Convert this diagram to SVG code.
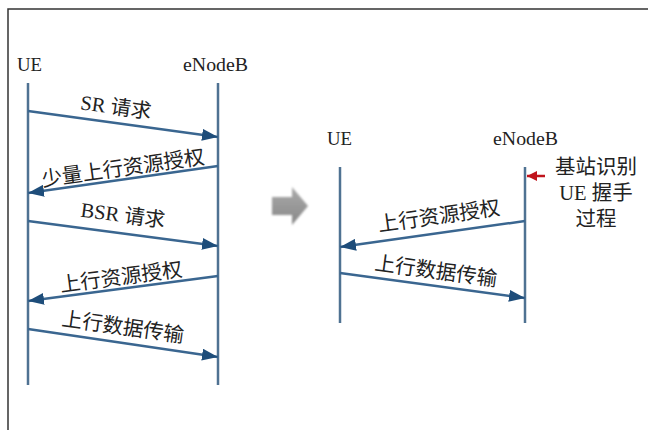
<svg xmlns="http://www.w3.org/2000/svg" width="648" height="430" viewBox="0 0 648 430">
<defs>
<style>
.frame{stroke:#333;stroke-width:1.5;fill:none}
.life{stroke:#4f7292;stroke-width:2.5;fill:none}
.msg{stroke:#3a6690;stroke-width:2.5;fill:none;marker-end:url(#ah)}
.lbl{font-family:"Liberation Serif","Noto Sans CJK SC",serif;font-size:20.5px;fill:#222;text-anchor:middle}
.hdr{font-family:"Liberation Serif",serif;font-size:18px;fill:#222}
.note{font-family:"Liberation Serif","Noto Sans CJK SC",serif;font-size:20.5px;fill:#222;text-anchor:middle}
</style>
<marker id="ah" viewBox="0 0 16 12" refX="16" refY="6" markerWidth="16" markerHeight="12" markerUnits="userSpaceOnUse" orient="auto">
<path d="M0,0 L16,6 L0,12 Z" fill="#1e4d7a"/>
</marker>
<marker id="ahr" viewBox="0 0 10 10" refX="10" refY="5" markerWidth="10" markerHeight="10" markerUnits="userSpaceOnUse" orient="auto">
<path d="M0,0 L10,5 L0,10 Z" fill="#c0141c"/>
</marker>
<filter id="blur" x="-20%" y="-20%" width="140%" height="140%"><feGaussianBlur stdDeviation="1.2"/></filter>
<linearGradient id="gg" x1="0" y1="0" x2="0" y2="1"><stop offset="0" stop-color="#aaa"/><stop offset="1" stop-color="#888"/></linearGradient>
</defs>
<rect width="648" height="430" fill="#fff"/>
<path class="frame" d="M8,430 V9 H648"/>

<g id="left-ue">
<text class="hdr" x="17" y="71" textLength="25" lengthAdjust="spacingAndGlyphs">UE</text>
<line class="life" x1="28" y1="83" x2="28" y2="385"/>
</g>
<g id="left-enodeb">
<text class="hdr" x="183" y="71" textLength="65" lengthAdjust="spacingAndGlyphs">eNodeB</text>
<line class="life" x1="218" y1="83" x2="218" y2="385"/>
</g>

<g id="right-ue">
<text class="hdr" x="327" y="145" textLength="25" lengthAdjust="spacingAndGlyphs">UE</text>
<line class="life" x1="340" y1="167" x2="340" y2="323"/>
</g>
<g id="right-enodeb">
<text class="hdr" x="493" y="145" textLength="65" lengthAdjust="spacingAndGlyphs">eNodeB</text>
<line class="life" x1="525" y1="167" x2="525" y2="323"/>
</g>

<g id="note">
<text class="note" x="596" y="174">基站识别</text>
<text class="note" x="596" y="200">UE 握手</text>
<text class="note" x="596" y="226">过程</text>
</g>

<g id="transition">
<path d="M272,197 H292 V187 L308,206 L292,225 V215 H272 Z" fill="url(#gg)" filter="url(#blur)"/>
</g>

<g id="connectors">
<line class="msg" x1="28" y1="111" x2="218" y2="137"/>
<line class="msg" x1="218" y1="166" x2="28" y2="193"/>
<line class="msg" x1="28" y1="221" x2="218" y2="246"/>
<line class="msg" x1="218" y1="276" x2="28" y2="301"/>
<line class="msg" x1="28" y1="329" x2="218" y2="357"/>
<line class="msg" x1="525" y1="221" x2="340" y2="247"/>
<line class="msg" x1="340" y1="273" x2="525" y2="298"/>
<line x1="545" y1="176" x2="527" y2="176" stroke="#c0141c" stroke-width="2.5" marker-end="url(#ahr)"/>
</g>

<g id="labels">
<text class="lbl" transform="translate(115,114) rotate(7.8)">SR 请求</text>
<text class="lbl" transform="translate(124,175) rotate(-8)">少量上行资源授权</text>
<text class="lbl" transform="translate(122,222) rotate(7.5)">BSR 请求</text>
<text class="lbl" transform="translate(122,284) rotate(-7.5)">上行资源授权</text>
<text class="lbl" transform="translate(122,334) rotate(8)">上行数据传输</text>
<text class="lbl" transform="translate(440,223) rotate(-8)">上行资源授权</text>
<text class="lbl" transform="translate(435,278) rotate(7.7)">上行数据传输</text>
</g>
</svg>
